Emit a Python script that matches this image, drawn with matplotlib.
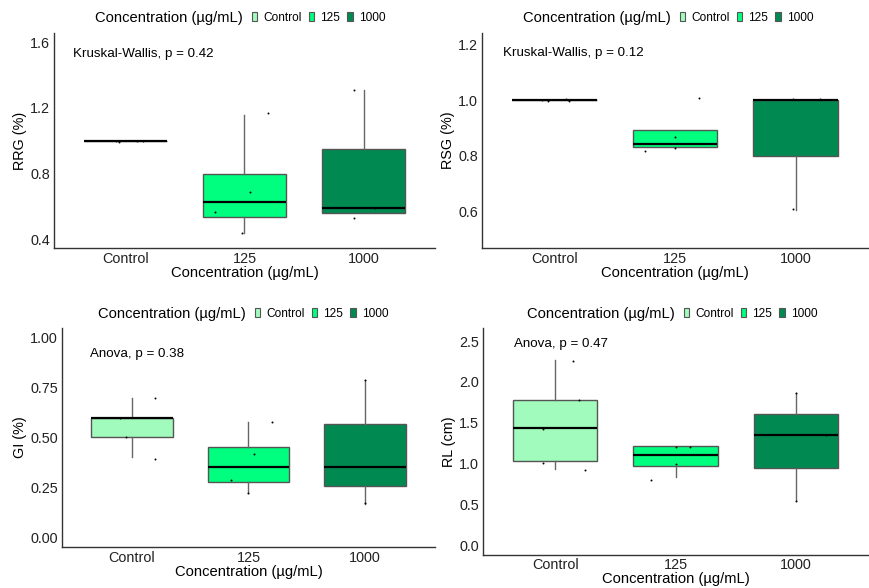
import matplotlib
matplotlib.use("Agg")
import matplotlib.pyplot as plt
from matplotlib.patches import Patch
import numpy as np

plt.rcParams['font.family'] = ['Liberation Sans', 'DejaVu Sans']

groups = ["Control", "125", "1000"]
colors = ["#a0fbbd", "#00ff7f", "#008a52"]
xlabel = "Concentration (\u00b5g/mL)"

# box stats per panel: whisker low, q1, median, q3, whisker high
rrg_stats = [[1.0, 1.0, 1.0, 1.0, 1.0],
             [0.44, 0.54, 0.63, 0.80, 1.16],
             [0.56, 0.56, 0.59, 0.95, 1.31]]
rrg_pts = [[1.0, 1.0, 0.995, 1.0], [0.44, 0.57, 0.69, 1.17], [0.53, 0.59, 1.31]]
rrg_jit = [[-0.08, 0.1, -0.05, 0.15], [-0.02, -0.25, 0.05, 0.2], [-0.08, 0.1, -0.08]]

rsg_stats = [[1.0, 1.0, 1.0, 1.0, 1.0],
             [0.83, 0.83, 0.843, 0.893, 0.893],
             [0.607, 0.80, 1.0, 1.0, 1.0]]
rsg_pts = [[1.0, 0.995, 1.005, 0.995], [0.818, 0.828, 0.868, 1.007], [0.61, 1.003, 1.002]]
rsg_jit = [[-0.1, -0.05, 0.1, 0.12], [-0.25, 0.0, 0.0, 0.2], [-0.02, -0.02, 0.2]]

gi_stats = [[0.40, 0.50, 0.60, 0.60, 0.70],
            [0.22, 0.275, 0.35, 0.45, 0.58],
            [0.165, 0.255, 0.35, 0.57, 0.79]]
gi_pts = [[0.39, 0.50, 0.60, 0.70], [0.22, 0.285, 0.415, 0.58], [0.17, 0.79]]
gi_jit = [[0.2, -0.05, -0.1, 0.2], [0.0, -0.15, 0.05, 0.2], [0.0, 0.0]]

rl_stats = [[0.93, 1.03, 1.43, 1.78, 2.27],
            [0.83, 0.97, 1.10, 1.21, 1.21],
            [0.55, 0.95, 1.35, 1.61, 1.87]]
rl_pts = [[0.92, 1.01, 1.42, 1.78, 2.25], [0.80, 1.0, 1.2, 1.2], [0.54, 1.35, 1.86]]
rl_jit = [[0.25, -0.1, -0.1, 0.2, 0.15], [-0.2, 0.0, 0.0, 0.12], [0.0, 0.25, 0.0]]

panels = [
    dict(rect=(54, 33, 435, 248), stats=rrg_stats, pts=rrg_pts, jit=rrg_jit,
         ylim=(0.35, 1.655), yticks=[0.4, 0.8, 1.2, 1.6], fmt="{:.1f}",
         ylabel="RRG (%)", note="Kruskal-Wallis, p = 0.42", note_xy=(0.56, 1.53),
         leg_x=95, leg_y=18, xpad=0, tpad=3),
    dict(rect=(482, 33, 868, 248), stats=rsg_stats, pts=rsg_pts, jit=rsg_jit,
         ylim=(0.47, 1.24), yticks=[0.6, 0.8, 1.0, 1.2], fmt="{:.1f}",
         ylabel="RSG (%)", note="Kruskal-Wallis, p = 0.12", note_xy=(0.57, 1.17),
         leg_x=523, leg_y=18, xpad=0, tpad=3),
    dict(rect=(62, 328, 435, 547), stats=gi_stats, pts=gi_pts, jit=gi_jit,
         ylim=(-0.05, 1.05), yticks=[0.0, 0.25, 0.5, 0.75, 1.0], fmt="{:.2f}",
         ylabel="GI (%)", note="Anova, p = 0.38", note_xy=(0.64, 0.92),
         leg_x=98, leg_y=314, xpad=0, tpad=3),
    dict(rect=(483, 328, 868, 555), stats=rl_stats, pts=rl_pts, jit=rl_jit,
         ylim=(-0.12, 2.66), yticks=[0.0, 0.5, 1.0, 1.5, 2.0, 2.5], fmt="{:.1f}",
         ylabel="RL (cm)", note="Anova, p = 0.47", note_xy=(0.66, 2.46),
         leg_x=527, leg_y=314, xpad=0, tpad=2),
]

W, H = 870, 588
fig = plt.figure(figsize=(W / 100, H / 100), dpi=100)

for p in panels:
    x0, y0, x1, y1 = p["rect"]
    ax = fig.add_axes([x0 / W, 1 - y1 / H, (x1 - x0) / W, (y1 - y0) / H])

    bstats = []
    for g, s in zip(groups, p["stats"]):
        bstats.append(dict(label=g, whislo=s[0], q1=s[1], med=s[2], q3=s[3], whishi=s[4], fliers=[]))
    bp = ax.bxp(bstats, positions=[1, 2, 3], widths=0.7, patch_artist=True,
                showcaps=False, showfliers=False,
                boxprops=dict(edgecolor="#555555", linewidth=1.0),
                whiskerprops=dict(color="#666666", linewidth=1.0),
                medianprops=dict(color="black", linewidth=1.6))
    for box, c in zip(bp["boxes"], colors):
        box.set_facecolor(c)
        box.set_zorder(2)
    for m in bp["medians"]:
        m.set_zorder(3)

    for i, (vals, jit) in enumerate(zip(p["pts"], p["jit"])):
        ax.scatter(np.array(jit) + i + 1, vals, s=2, color="black", zorder=4, linewidths=0)

    ax.set_xlim(0.4, 3.6)
    ax.set_ylim(*p["ylim"])
    ax.set_yticks(p["yticks"])
    ax.set_yticklabels([p["fmt"].format(v) for v in p["yticks"]])
    ax.set_xticks([1, 2, 3])
    ax.set_xticklabels(groups)
    ax.tick_params(length=0, labelsize=10.4, colors="#222222", pad=3)
    ax.tick_params(axis="x", pad=p["tpad"])
    ax.set_xlabel(xlabel, fontsize=10.6, labelpad=p["xpad"])
    ax.set_ylabel(p["ylabel"], fontsize=10.4, labelpad=2)
    for side in ["top", "right"]:
        ax.spines[side].set_visible(False)
    for side in ["left", "bottom"]:
        ax.spines[side].set_color("#333333")
        ax.spines[side].set_linewidth(1.0)

    ax.text(*p["note_xy"], p["note"], fontsize=9.6, ha="left", va="center")

    # legend: title on the left, keys to the right
    fig.text(p["leg_x"] / W, 1 - p["leg_y"] / H, xlabel, fontsize=10.6, ha="left", va="center")
    handles = [Patch(facecolor=c, edgecolor="#555555", linewidth=0.8) for c in colors]
    fig.legend(handles, groups, loc="center left",
               bbox_to_anchor=((p["leg_x"] + 157) / W, 1 - p["leg_y"] / H),
               ncol=3, frameon=False, fontsize=8.6, handlelength=0.45, handleheight=0.8,
               handletextpad=0.5, columnspacing=0.6, borderpad=0, borderaxespad=0)

fig.savefig("out.png", dpi=100)
